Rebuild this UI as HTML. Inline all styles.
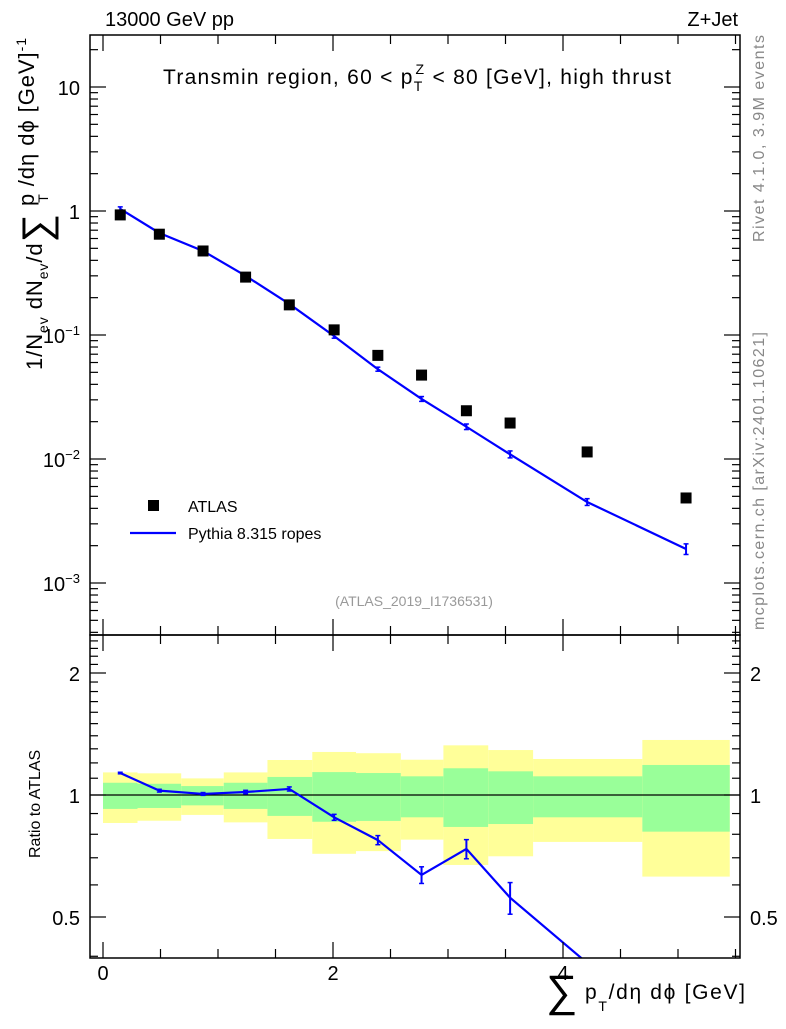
<!DOCTYPE html>
<html><head><meta charset="utf-8"><style>
body{margin:0;background:#fff}
svg text{font-family:"Liberation Sans",sans-serif}
</style></head><body>
<svg id="c" width="786" height="1024" xmlns="http://www.w3.org/2000/svg"></svg>
<script>
const xCenters=[0.15,0.49,0.87,1.24,1.62,2.01,2.39,2.77,3.16,3.54,4.21,5.07];
const binEdges=[0,0.3,0.68,1.05,1.43,1.82,2.2,2.59,2.96,3.35,3.74,4.69,5.45];
const atlasVals=[0.93,0.65,0.476,0.293,0.175,0.11,0.0685,0.0475,0.0245,0.0195,0.0114,0.00485];
const mcVals=[1.04,0.665,0.476,0.3,0.178,0.098,0.053,0.0305,0.0182,0.0109,0.0045,0.00188];
const mcErr=[0.02,0.01,0.01,0.005,0.003,0.002,0.001,0.0008,0.0006,0.0005,0.0002,0.00015];
const ratioVals=[1.133,1.025,1.006,1.017,1.035,0.881,0.774,0.635,0.736,0.558,0.385,0.39];
const ratioErr=[0.005,0.008,0.008,0.01,0.012,0.015,0.02,0.03,0.04,0.05,0.05,0.06];
const yelHi=[1.137,1.131,1.099,1.137,1.22,1.277,1.268,1.222,1.326,1.291,1.227,1.367];
const yelLo=[0.853,0.864,0.893,0.856,0.779,0.716,0.727,0.776,0.672,0.706,0.766,0.629];
const grnHi=[1.072,1.066,1.052,1.072,1.108,1.139,1.133,1.112,1.164,1.144,1.112,1.186];
const grnLo=[0.924,0.929,0.943,0.924,0.888,0.859,0.863,0.881,0.834,0.848,0.881,0.812];
const xTickLabels=[0,2,4];
const mainTickLabels=[[10,"10"],[1,"1"],[0.1,"10<tspan dy='-8' font-size='13'>−1</tspan>"],[0.01,"10<tspan dy='-8' font-size='13'>−2</tspan>"],[0.001,"10<tspan dy='-8' font-size='13'>−3</tspan>"]];
const ratioTickLabels=[0.5,1,2];

const L=90,R=740,T=35,M=635,B=958;
const X=v=>103+v*115;
const Y=v=>211-Math.log10(v)*124;
const YR=v=>795-Math.log2(v)*122;
const svg=document.getElementById('c');
const NS="http://www.w3.org/2000/svg";
function mk(tag,attrs,parent){const e=document.createElementNS(NS,tag);for(const k in attrs)e.setAttribute(k,attrs[k]);(parent||svg).appendChild(e);return e;}
function txt(x,y,s,attrs){const e=mk('text',Object.assign({x:x,y:y},attrs||{}));e.innerHTML=s;return e;}

const bands=mk('g',{});


for(let i=0;i<xCenters.length;i++){
  const x0=X(binEdges[i]),x1=X(binEdges[i+1]);
  const y=mk('rect',{x:x0,y:YR(yelHi[i]),width:x1-x0,height:YR(yelLo[i])-YR(yelHi[i]),fill:'#ffff99'},bands);
  
  
  const g=mk('rect',{x:x0,y:YR(grnHi[i]),width:x1-x0,height:YR(grnLo[i])-YR(grnHi[i]),fill:'#99ff99'},bands);
  
  
}
mk('line',{x1:L,x2:R,y1:YR(1),y2:YR(1),stroke:'#000','stroke-width':1.2});

const defs=mk('defs',{});
const cp=mk('clipPath',{id:'rc'},defs);mk('rect',{x:L,y:M,width:R-L,height:B-M},cp);
const rg=mk('g',{'clip-path':'url(#rc)'});
const rl=mk('polyline',{points:xCenters.map((x,i)=>X(x)+','+YR(ratioVals[i])).join(' '),fill:'none',stroke:'#0000ff','stroke-width':2.2},rg);


xCenters.forEach((x,i)=>{if(ratioVals[i]-ratioErr[i]<0.4)return;const px=X(x),a=YR(ratioVals[i]+ratioErr[i]),b=YR(ratioVals[i]-ratioErr[i]);
 mk('line',{x1:px,x2:px,y1:a,y2:b,stroke:'#0000ff','stroke-width':2},rg);
 mk('line',{x1:px-2.5,x2:px+2.5,y1:a,y2:a,stroke:'#0000ff','stroke-width':1.5},rg);
 mk('line',{x1:px-2.5,x2:px+2.5,y1:b,y2:b,stroke:'#0000ff','stroke-width':1.5},rg);});

const ml=mk('polyline',{points:xCenters.map((x,i)=>X(x)+','+Y(mcVals[i])).join(' '),fill:'none',stroke:'#0000ff','stroke-width':2.2});


xCenters.forEach((x,i)=>{const px=X(x),a=Y(mcVals[i]+mcErr[i]),b=Y(mcVals[i]-mcErr[i]);
 mk('line',{x1:px,x2:px,y1:a-1,y2:b+1,stroke:'#0000ff','stroke-width':2});
 mk('line',{x1:px-2.5,x2:px+2.5,y1:a-1,y2:a-1,stroke:'#0000ff','stroke-width':1.5});
 mk('line',{x1:px-2.5,x2:px+2.5,y1:b+1,y2:b+1,stroke:'#0000ff','stroke-width':1.5});});
xCenters.forEach((x,i)=>{const r=mk('rect',{x:X(x)-5.5,y:Y(atlasVals[i])-5.5,width:11,height:11,fill:'#000'});
 
 });

mk('rect',{x:L,y:T,width:R-L,height:M-T,fill:'none',stroke:'#000','stroke-width':1.5});
mk('rect',{x:L,y:M,width:R-L,height:B-M,fill:'none',stroke:'#000','stroke-width':1.5});

for(let v=0;v<=5.5;v+=0.5){const px=X(v),big=(v%2===0);const l=big?16:9;
 [[T,1],[M,-1],[M,1],[B,-1]].forEach(([y0,d])=>mk('line',{x1:px,x2:px,y1:y0,y2:y0+d*l,stroke:'#000','stroke-width':1.2}));}
xTickLabels.forEach(v=>txt(X(v),980,v,{'font-size':20,'text-anchor':'middle'}));

for(let d=-4;d<=1;d++)for(let k=1;k<=9;k++){const v=k*Math.pow(10,d);const py=Y(v);if(py<T||py>M)continue;const l=k===1?16:8;
 mk('line',{x1:L,x2:L+l,y1:py,y2:py,stroke:'#000','stroke-width':1.2});mk('line',{x1:R,x2:R-l,y1:py,y2:py,stroke:'#000','stroke-width':1.2});}
mainTickLabels.forEach(([v,s])=>txt(80,Y(v)+8,s,{'font-size':20,'text-anchor':'end'}));

for(let v=0.4;v<=2.5;v+=0.1){const vv=Math.round(v*10)/10;const py=YR(vv);if(py<M||py>B)continue;const big=(vv===0.5||vv===1||vv===2);const l=big?16:8;
 mk('line',{x1:L,x2:L+l,y1:py,y2:py,stroke:'#000','stroke-width':1.2});mk('line',{x1:R,x2:R-l,y1:py,y2:py,stroke:'#000','stroke-width':1.2});}
ratioTickLabels.forEach(v=>{txt(80,YR(v)+8,v,{'font-size':20,'text-anchor':'end'});txt(750,YR(v)+8,v,{'font-size':20,'text-anchor':'start'});});
</script>
<svg width="786" height="1024" style="position:absolute;left:0;top:0" xmlns="http://www.w3.org/2000/svg">
<text x="105" y="26" font-size="20" font-family="Liberation Sans">13000 GeV pp</text>
<text x="738" y="26" font-size="20" font-family="Liberation Sans" text-anchor="end">Z+Jet</text>
<text x="163" y="84" font-size="21" font-family="Liberation Sans" textLength="508">Transmin region, 60 &lt; p<tspan dy="7" font-size="14">T</tspan><tspan dx="-8" dy="-17" font-size="14">Z</tspan><tspan dy="10"> &lt; 80 [GeV], high thrust</tspan></text>
<text x="414" y="606" font-size="14" fill="#999" font-family="Liberation Sans" text-anchor="middle">(ATLAS_2019_I1736531)</text>
<rect x="148" y="500" width="11" height="11" fill="#000"/>
<text x="188" y="512" font-size="16" font-family="Liberation Sans">ATLAS</text>
<line x1="130" x2="176" y1="533" y2="533" stroke="#0000ff" stroke-width="2.2"/>
<text x="188" y="539" font-size="16" font-family="Liberation Sans">Pythia 8.315 ropes</text>
<text transform="translate(42,370) rotate(-90)" font-size="22" font-family="Liberation Sans" textLength="332">1/N<tspan dy="6" font-size="14">ev</tspan><tspan dy="-6"> dN</tspan><tspan dy="6" font-size="14">ev</tspan><tspan dy="-6">/d</tspan><tspan font-size="40" dy="8">∑</tspan><tspan dy="-16"> p</tspan><tspan dy="14" dx="-10" font-size="14">T</tspan><tspan dy="-14"> /dη dϕ  [GeV]</tspan><tspan dy="-8" font-size="14">-1</tspan></text>
<text transform="translate(40,858) rotate(-90)" font-size="16" font-family="Liberation Sans">Ratio to ATLAS</text>
<text x="546" y="1006" font-size="44" font-family="Liberation Sans">∑</text>
<text x="585" y="999" font-size="21" font-family="Liberation Sans" textLength="160">p<tspan dy="12" font-size="14">T</tspan><tspan dy="-12">/dη dϕ [GeV]</tspan></text>
<text transform="translate(764,242) rotate(-90)" font-size="16" fill="#888" font-family="Liberation Sans" textLength="207">Rivet 4.1.0,  3.9M events</text>
<text transform="translate(764,630) rotate(-90)" font-size="16" fill="#888" font-family="Liberation Sans" textLength="298">mcplots.cern.ch [arXiv:2401.10621]</text>
</svg>
</body></html>
